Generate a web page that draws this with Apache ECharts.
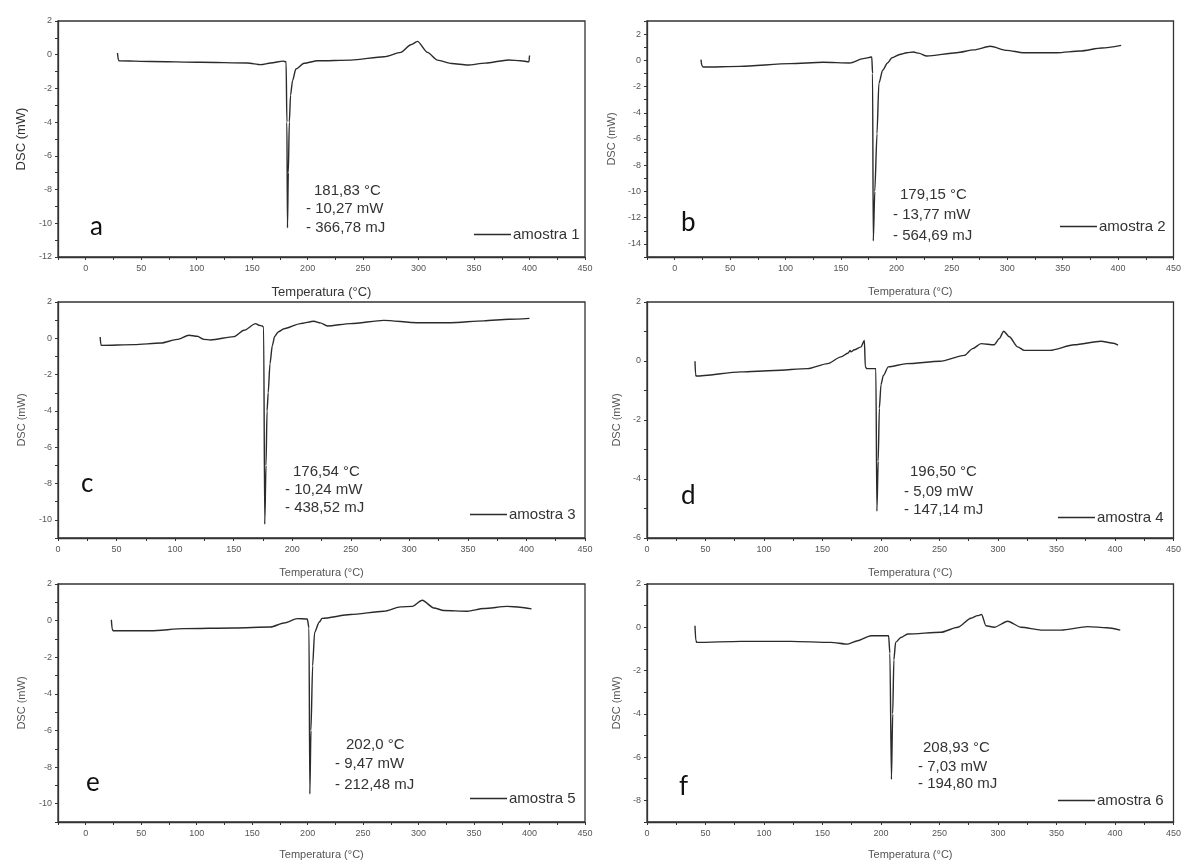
<!DOCTYPE html>
<html>
<head>
<meta charset="utf-8">
<script src="https://cdn.jsdelivr.net/npm/echarts@6/dist/echarts.min.js"></script>
<style>
  html, body { margin: 0; padding: 0; background: #ffffff; }
  #chart { width: 1184px; height: 863px; }
</style>
</head>
<body>
<div id="chart"></div>
<script>
// DSC curves: [temperature °C, heat flow mW]
const amostra1 = [[28.6,0.1],[29.4,-0.3],[30,-0.36],[58.6,-0.40],[103.7,-0.45],[145.8,-0.49],[157.8,-0.59],[166.8,-0.49],[178,-0.38],[180.6,-0.42],[181.3,-4],[181.83,-10.27],[182.6,-7],[183.5,-4],[184.6,-2.4],[186.4,-1.54],[189.4,-0.85],[196.8,-0.51],[209,-0.36],[239,-0.32],[269,-0.12],[284,0.14],[293,0.59],[299,0.79],[308,0.14],[317,-0.32],[330,-0.52],[344,-0.61],[360,-0.5],[381,-0.31],[392,-0.36],[399.5,-0.42],[400,-0.05]];
const amostra2 = [[23.7,0.05],[24.5,-0.4],[25.8,-0.51],[59,-0.46],[104,-0.25],[134,-0.15],[158,-0.2],[170,0.13],[177.8,0.25],[178.5,-1],[179.15,-13.77],[180.5,-10],[182.5,-5.6],[184.2,-1.76],[187.6,-0.76],[192,-0.2],[196,0.2],[203,0.45],[209.4,0.58],[215.4,0.63],[220,0.55],[227.4,0.33],[254.5,0.58],[270,0.8],[284.6,1.07],[299.6,0.76],[314.6,0.58],[344.8,0.58],[365.8,0.71],[385.4,0.94],[402.8,1.14]];
const amostra3 = [[36,0.07],[36.5,-0.3],[37,-0.39],[65,-0.35],[87.7,-0.26],[101.9,-0.06],[111.8,0.17],[118.9,0.11],[124.6,-0.06],[130.3,-0.09],[150.2,0.09],[158.8,0.44],[168.7,0.81],[171.6,0.72],[174.4,0.68],[175.6,0.6],[176.54,-10.24],[177.6,-7],[178.5,-4],[179.5,-3],[181,-1.4],[183,-0.4],[185,0.1],[188,0.35],[193,0.53],[207,0.81],[218.5,0.94],[224,0.85],[230,0.68],[249.8,0.81],[278.2,0.99],[306.8,0.86],[335.2,0.86],[363.6,0.96],[385,1.05],[402.6,1.1]];
const amostra4 = [[41,-0.01],[41.5,-0.45],[41.9,-0.51],[80.3,-0.37],[108.8,-0.32],[137.3,-0.26],[154.4,-0.09],[165.8,0.14],[172,0.27],[173.5,0.36],[174.4,0.31],[177.2,0.38],[183,0.48],[185.8,0.70],[186.6,-0.2],[188,-0.26],[195.6,-0.26],[196.5,-5.09],[197.6,-3.4],[198.6,-1.6],[200,-0.8],[202,-0.49],[206.2,-0.2],[222,-0.09],[250.4,-0.01],[271.2,0.19],[278.4,0.42],[285.5,0.59],[296.8,0.55],[301.1,0.76],[304.9,1.01],[309.7,0.82],[316.8,0.48],[322.5,0.36],[344.4,0.36],[365.2,0.55],[388,0.67],[398.8,0.6],[402.6,0.54]];
const amostra5 = [[23.1,0.05],[23.8,-0.45],[24.6,-0.55],[58.6,-0.55],[88.6,-0.44],[133.6,-0.4],[166.7,-0.35],[178.7,-0.13],[190.7,0.11],[199.7,0.09],[201.2,-0.4],[202.0,-9.47],[203,-6],[204.5,-2.46],[206.3,-0.64],[210.4,-0.09],[213,0.12],[238.7,0.33],[268.7,0.51],[283.8,0.75],[294.3,0.78],[303.3,1.11],[313.8,0.69],[322.8,0.55],[343.9,0.51],[358.8,0.66],[379.9,0.78],[391.4,0.73],[401.8,0.64]];
const amostra6 = [[41,0.07],[41.7,-0.6],[42.5,-0.70],[80.3,-0.65],[123,-0.65],[157,-0.70],[171.5,-0.78],[180,-0.62],[191.5,-0.39],[206.5,-0.39],[207.6,-1.2],[208.93,-7.03],[210,-4],[211,-1.5],[212.5,-0.7],[217,-0.47],[222.8,-0.31],[251.3,-0.23],[265.6,0],[276.9,0.42],[282.6,0.54],[286,0.59],[289.7,0.07],[296.8,0],[308.3,0.28],[319.7,0],[336.8,-0.13],[354,-0.13],[376.7,0.03],[393,-0.02],[404.5,-0.13]];

const seriesNames = ['amostra 1','amostra 2','amostra 3','amostra 4','amostra 5','amostra 6'];
const panelLetters = ['a','b','c','d','e','f'];
// melting peak: temperature, heat flow, enthalpy
const peakTemp = [181.83, 179.15, 176.54, 196.50, 202.0, 208.93];
const peakTempDecimals = [2, 2, 2, 2, 1, 2];
const peakFlow = [-10.27, -13.77, -10.24, -5.09, -9.47, -7.03];
const peakEnergy = [-366.78, -564.69, -438.52, -147.14, -212.48, -194.80];
// axis ranges
const xMin = [-25, -25, 0, 0, -25, 0];
const xMax = [450, 450, 450, 450, 450, 450];
const yMin = [-12, -15, -11, -6, -11, -9];
const yMax = [2, 3, 2, 2, 2, 2];
const xTitle = 'Temperatura (°C)';
const yTitle = 'DSC (mW)';

const curves = [amostra1, amostra2, amostra3, amostra4, amostra5, amostra6];

// layout of the six panels
const grids = [
  {left: 58,  top: 21,  width: 527, height: 236},
  {left: 647, top: 21,  width: 527, height: 236},
  {left: 58,  top: 302, width: 527, height: 236},
  {left: 647, top: 302, width: 527, height: 236},
  {left: 58,  top: 584, width: 527, height: 238},
  {left: 647, top: 584, width: 527, height: 238}
];
const big = [true, false, false, false, false, false];
const yNameGap = [30, 30, 31, 25, 31, 25];
const xNameGap = [29, 29, 29, 29, 27, 27];
const legendPos = [[474,227],[1060,219],[470,507],[1058,510],[470,791],[1058,793]];
// annotation anchors: [line1 x, line2/3 x, line1 y, line2 y, line3 y]
const notePos = [
  [314, 306, 191, 209, 228],
  [900, 893, 195, 215, 236],
  [293, 285, 472, 490, 508],
  [910, 904, 472, 492, 510],
  [346, 335, 745, 764, 785],
  [923, 918, 748, 767, 784]
];
const letterPos = [[90,227],[681,223],[81,484],[681,496],[86,783],[679,787]];

const fmt = (v, d) => Math.abs(v).toFixed(d).replace('.', ',');
const ink = '#2b2b2b';
const tickGrey = '#555';
const baseFont = 'Liberation Sans, Arial, sans-serif';

const option = {
  backgroundColor: '#ffffff',
  animation: false,
  grid: grids.map(g => Object.assign({show: true, borderColor: '#333', borderWidth: 1.3, backgroundColor: 'transparent'}, g)),
  xAxis: grids.map((g, i) => ({
    type: 'value', gridIndex: i, min: xMin[i], max: xMax[i], interval: 25,
    name: xTitle, nameLocation: 'middle', nameGap: xNameGap[i],
    nameTextStyle: {fontFamily: baseFont, fontSize: big[i] ? 13 : 11, color: big[i] ? '#333' : '#555'},
    axisLine: {show: true, onZero: false, lineStyle: {color: '#333', width: 1.3}},
    axisTick: {show: true, length: 3, lineStyle: {color: '#333'}},
    axisLabel: {fontFamily: baseFont, fontSize: 9, color: tickGrey, margin: 7,
      formatter: v => (v % 50 === 0 ? String(v) : '')},
    splitLine: {show: false}
  })),
  yAxis: grids.map((g, i) => ({
    type: 'value', gridIndex: i, min: yMin[i], max: yMax[i], interval: 1,
    name: yTitle, nameLocation: 'middle', nameGap: yNameGap[i],
    nameTextStyle: {fontFamily: baseFont, fontSize: big[i] ? 13 : 11, color: big[i] ? '#333' : '#555'},
    axisLine: {show: true, onZero: false, lineStyle: {color: '#333', width: 1.3}},
    axisTick: {show: true, length: 3, lineStyle: {color: '#333'}},
    axisLabel: {fontFamily: baseFont, fontSize: 9, color: tickGrey, margin: 6,
      formatter: v => (v % 2 === 0 ? String(v) : '')},
    splitLine: {show: false}
  })),
  legend: grids.map((g, i) => ({
    data: [seriesNames[i]], left: legendPos[i][0], top: legendPos[i][1],
    icon: 'rect', itemWidth: 37, itemHeight: 1.6, padding: 0,
    textStyle: {fontFamily: baseFont, fontSize: 15, color: '#333', padding: [0, 0, 0, -3]},
    selectedMode: false
  })),
  series: curves.map((c, i) => ({
    name: seriesNames[i], type: 'line', xAxisIndex: i, yAxisIndex: i,
    data: c, showSymbol: false, symbol: 'none', smooth: 0.25, smoothMonotone: 'x',
    lineStyle: {color: ink, width: 1.4}, itemStyle: {color: ink}
  })),
  graphic: []
};

grids.forEach((g, i) => {
  const p = notePos[i];
  const lines = [
    [p[0], p[2], fmt(peakTemp[i], peakTempDecimals[i]) + ' °C'],
    [p[1], p[3], '- ' + fmt(peakFlow[i], 2) + ' mW'],
    [p[1], p[4], '- ' + fmt(peakEnergy[i], 2) + ' mJ']
  ];
  lines.forEach(l => option.graphic.push({
    type: 'text', x: l[0], y: l[1], silent: true,
    style: {text: l[2], fill: '#333', font: '15px ' + baseFont, align: 'left', verticalAlign: 'middle'}
  }));
  option.graphic.push({
    type: 'text', x: letterPos[i][0], y: letterPos[i][1], silent: true,
    style: {text: panelLetters[i], fill: '#111', font: '26px Lato, "Open Sans", sans-serif', align: 'left', verticalAlign: 'middle'}
  });
});

const chart = echarts.init(document.getElementById('chart'), null, {renderer: 'canvas'});
chart.setOption(option);
</script>
</body>
</html>
